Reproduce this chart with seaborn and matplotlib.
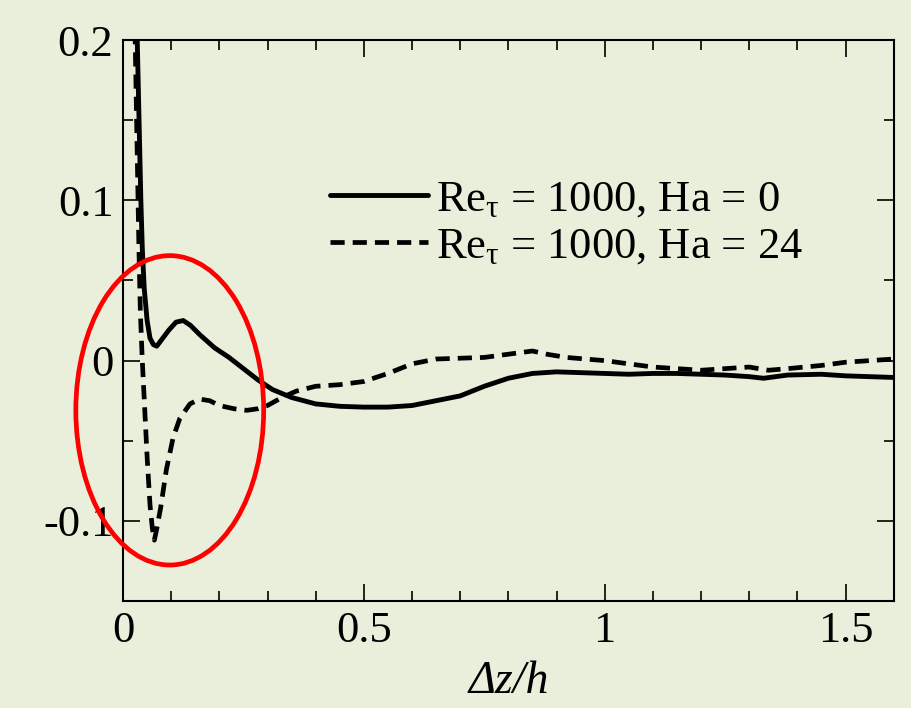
import matplotlib
matplotlib.use("Agg")
import matplotlib.pyplot as plt
import seaborn as sns
import pandas as pd
from matplotlib.patches import Ellipse
from matplotlib.ticker import MultipleLocator

# ---- data ----
x_ha0 = [0.028, 0.031, 0.034, 0.037, 0.040, 0.044, 0.050, 0.056, 0.063, 0.070,
         0.080, 0.095, 0.110, 0.125, 0.140, 0.160, 0.190, 0.220, 0.250, 0.280,
         0.310, 0.350, 0.400, 0.450, 0.500, 0.550, 0.600, 0.650, 0.700, 0.750,
         0.800, 0.850, 0.900, 0.950, 1.000, 1.050, 1.100, 1.150, 1.200, 1.250,
         1.300, 1.330, 1.380, 1.450, 1.500, 1.550, 1.600]
y_ha0 = [0.22, 0.18, 0.14, 0.10, 0.07, 0.045, 0.025, 0.014, 0.010, 0.009,
         0.013, 0.019, 0.024, 0.025, 0.022, 0.016, 0.008, 0.002, -0.005, -0.012,
         -0.018, -0.023, -0.027, -0.0285, -0.029, -0.029, -0.028, -0.025, -0.022, -0.016,
         -0.011, -0.008, -0.007, -0.0075, -0.008, -0.0085, -0.008, -0.008, -0.0085, -0.009,
         -0.010, -0.011, -0.009, -0.0085, -0.0095, -0.010, -0.0105]

x_ha24 = [0.024, 0.027, 0.030, 0.033, 0.036, 0.040, 0.045, 0.050, 0.056, 0.061,
          0.065, 0.070, 0.078, 0.090, 0.104, 0.118, 0.139, 0.159, 0.180, 0.200,
          0.230, 0.257, 0.280, 0.300, 0.330, 0.360, 0.400, 0.450, 0.500, 0.550,
          0.600, 0.650, 0.700, 0.750, 0.800, 0.850, 0.880, 0.920, 0.960, 1.000,
          1.050, 1.100, 1.150, 1.200, 1.250, 1.300, 1.340, 1.380, 1.450, 1.500,
          1.550, 1.600]
y_ha24 = [0.22, 0.17, 0.12, 0.07, 0.03, 0.0, -0.03, -0.06, -0.09, -0.105,
          -0.112, -0.105, -0.092, -0.068, -0.048, -0.036, -0.027, -0.024, -0.025, -0.028,
          -0.030, -0.031, -0.030, -0.028, -0.023, -0.019, -0.016, -0.015, -0.013, -0.008,
          -0.002, 0.001, 0.0015, 0.002, 0.004, 0.006, 0.004, 0.002, 0.001, 0.0,
          -0.002, -0.004, -0.005, -0.006, -0.005, -0.004, -0.006, -0.005, -0.003, -0.001,
          0.0, 0.001]

label_ha0 = r"Re$_{\mathrm{τ}}$ = 1000, Ha = 0"
label_ha24 = r"Re$_{\mathrm{τ}}$ = 1000, Ha = 24"
x_ticks = [0, 0.5, 1, 1.5]
x_ticklabels = ["0", "0.5", "1", "1.5"]
y_ticks = [-0.1, 0, 0.1, 0.2]
y_ticklabels = ["-0.1", "0", "0.1", "0.2"]

bg = "#E9EFDB"

sns.set_theme(style="ticks")
plt.rcParams["font.family"] = ["Liberation Serif", "DejaVu Serif"]
plt.rcParams["mathtext.fontset"] = "custom"
plt.rcParams["mathtext.rm"] = "Liberation Serif"
plt.rcParams["mathtext.it"] = "Liberation Serif:italic"
plt.rcParams["text.color"] = "black"
plt.rcParams["axes.labelcolor"] = "black"
plt.rcParams["xtick.color"] = "black"
plt.rcParams["ytick.color"] = "black"

fig = plt.figure(figsize=(9.12, 7.08), dpi=100, facecolor=bg)
ax = fig.add_axes([0.1349, 0.151, 0.845, 0.7925])
ax.set_facecolor(bg)

df0 = pd.DataFrame({"x": x_ha0, "y": y_ha0})
df1 = pd.DataFrame({"x": x_ha24, "y": y_ha24})
sns.lineplot(data=df0, x="x", y="y", ax=ax, color="black", lw=3.5,
             label=label_ha0, sort=False)
sns.lineplot(data=df1, x="x", y="y", ax=ax, color="black", lw=3.4,
             linestyle=(0, (3.0, 1.7)), label=label_ha24, sort=False)

ax.set_xlim(0, 1.6)
ax.set_ylim(-0.15, 0.2)
ax.set_xticks(x_ticks)
ax.set_xticklabels(x_ticklabels)
ax.set_yticks(y_ticks)
ax.set_yticklabels(y_ticklabels)
ax.xaxis.set_minor_locator(MultipleLocator(0.1))
ax.yaxis.set_minor_locator(MultipleLocator(0.05))
ax.tick_params(which="both", direction="in", top=True, right=True,
               colors="black", width=1.2)
ax.tick_params(which="major", length=12, labelsize=32, pad=7)
ax.tick_params(which="minor", length=7)
for s in ax.spines.values():
    s.set_color("black")
    s.set_linewidth(1.5)

ax.set_xlabel("Δz/h", fontsize=33, fontstyle="italic", labelpad=7, color="black")
ax.set_ylabel("")

ell = Ellipse((0.097, -0.031), width=0.39, height=0.193, fill=False,
              edgecolor="#FF0000", lw=3.4, clip_on=False, zorder=5)
ax.add_patch(ell)

leg = ax.legend(loc="upper left", bbox_to_anchor=(0.2685, 0.751), frameon=False,
                fontsize=32, handlelength=2.2, handletextpad=0.18,
                labelspacing=0.15, borderaxespad=0, borderpad=0,
                labelcolor="black")

fig.savefig("out.png", dpi=100, facecolor=bg)
